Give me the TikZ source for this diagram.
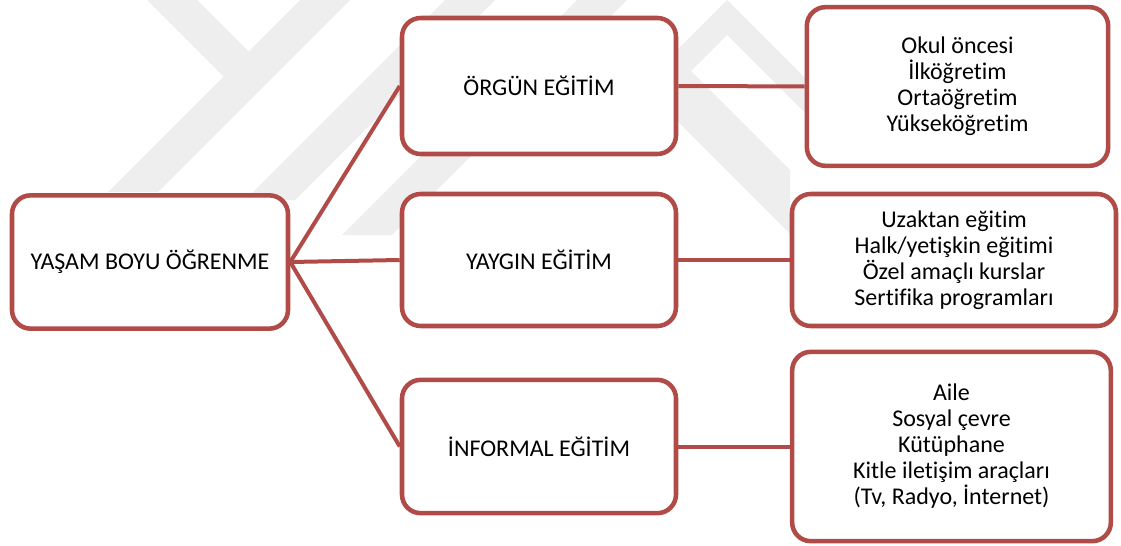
\documentclass[tikz,border=0pt]{standalone}
\usepackage{fontspec}
\setmainfont{Carlito}[Ligatures=NoCommon]
\usetikzlibrary{backgrounds}
\definecolor{lllred}{HTML}{B04B48}
\definecolor{lllmark}{HTML}{EEEEEE}

\begin{document}
\begin{tikzpicture}[
    x=0.75pt, y=-0.75pt,
    box/.style={
        draw=lllred, rounded corners=14pt, line width=3.4pt,
        fill=white, align=center, inner sep=0pt,
        font=\fontsize{18}{19.5}\selectfont
    },
    midbox/.style={
        box, minimum width=205.5pt, minimum height=100pt
    },
    link/.style={draw=lllred, line width=3pt},
    wmark/.style={fill=lllmark, draw=none},
]

\useasboundingbox (0,0) rectangle (1121,546);

% ===================================================================
% LEFT — root
% ===================================================================
\node[box, minimum width=207pt, minimum height=100pt] (life) at (150,262)
    {YAŞAM BOYU ÖĞRENME};

% ===================================================================
% MIDDLE — types of education
% ===================================================================
\node[midbox, minimum height=102pt] (formal) at (539,86) {ÖRGÜN EĞİTİM};
\node[midbox, minimum height=99pt] (nonformal) at (539,260) {YAYGIN EĞİTİM};
\node[midbox] (informal) at (539,446.5) {İNFORMAL EĞİTİM};

% ===================================================================
% RIGHT — examples
% ===================================================================
\node[box, minimum width=226pt, minimum height=119pt] (formal-list) at (957.5,86.5)
    {Okul öncesi\\İlköğretim\\Ortaöğretim\\Yükseköğretim};
\node[box, minimum width=243pt, minimum height=99pt] (nonformal-list) at (954,260)
    {Uzaktan eğitim\\Halk/yetişkin eğitimi\\Özel amaçlı kurslar\\Sertifika programları};
\node[box, minimum width=239pt, minimum height=142pt] (informal-list) at (951.5,446.5)
    {Aile\\Sosyal çevre\\Kütüphane\\Kitle iletişim araçları\\(Tv, Radyo, İnternet)};

% Edges
\draw[link] (life.east) -- (formal.west);
\draw[link] (life.east) -- (nonformal.west);
\draw[link] (life.east) -- (informal.west);
\draw[link] (formal) -- (formal-list);
\draw[link] (nonformal) -- (nonformal-list);
\draw[link] (informal) -- (informal-list);

% Watermark
\begin{scope}[on background layer]
    \fill[wmark] (147,0) -- (197,0) -- (248.5,51.5) -- (300,0) -- (350,0)
        -- (158,192) -- (108,192) -- (223.5,76.5) -- cycle;
    \fill[wmark] (445,0) -- (495,0) -- (295,200) -- (245,200) -- cycle;
    \fill[wmark] (577,0) -- (627,0) -- (392,235) -- (342,235) -- cycle;
    \fill[wmark] (727,0) -- (805,78) -- (805,113) -- (727,35)
        -- (691,71) -- (673.5,53.5) -- cycle;
    \fill[wmark] (660,40) -- (790,170) -- (790,234) -- (660,104) -- cycle;
\end{scope}

\end{tikzpicture}
\end{document}
